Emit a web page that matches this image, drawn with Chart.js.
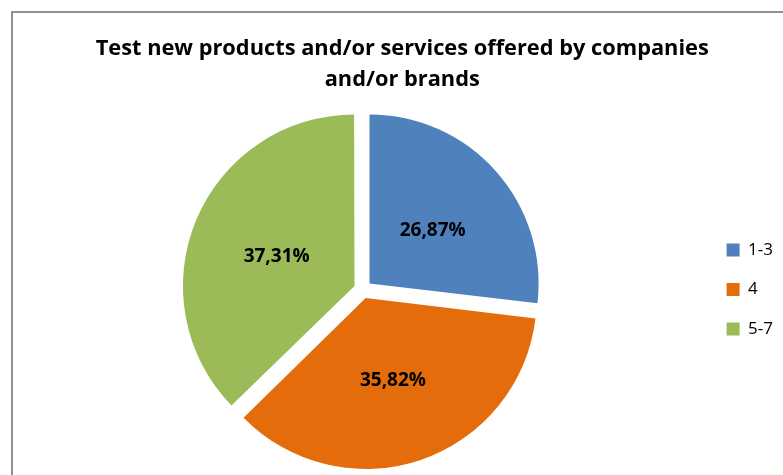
<!DOCTYPE html>
<html>
<head>
<meta charset="utf-8">
<script src="https://cdn.jsdelivr.net/npm/chart.js@4/dist/chart.umd.min.js"></script>
<style>
    html, body { margin: 0; padding: 0; background: #fff; overflow: hidden; }
    #frame {
        position: absolute; left: 11px; top: 11px;
        width: 800px; height: 500px;
        border: 2px solid #8f8f8f;
    }
    #wrap { position: absolute; left: 0; top: 0; width: 800px; height: 480px; }
</style>
</head>
<body>
<div id="frame"></div>
<div id="wrap"><canvas id="pieChart" width="800" height="480"></canvas></div>
<script>
// --- Chart data ---
const categories = ['1-3', '4', '5-7'];
const shares = [26.87, 35.82, 37.31];
const sliceColors = ['#4F81BD', '#E46C0A', '#9BBB59'];
const chartTitle = ['Test new products and/or services offered by companies', 'and/or brands'];

const SLICE_OFFSET = 36; // Chart.js moves an arc out by offset / 4

// Percent with a decimal comma, e.g. 26,87%
function formatShare(v) {
    return v.toFixed(2).replace('.', ',') + '%';
}

// Draws the value label inside every slice, halfway out along its bisector
const sliceLabels = {
    id: 'sliceLabels',
    afterDatasetsDraw(chart) {
        const ctx = chart.ctx;
        const meta = chart.getDatasetMeta(0);
        ctx.save();
        ctx.font = 'bold 19px "Open Sans"';
        ctx.fillStyle = '#000';
        ctx.textAlign = 'center';
        ctx.textBaseline = 'middle';
        meta.data.forEach((arc, i) => {
            const mid = (arc.startAngle + arc.endAngle) / 2;
            const dist = SLICE_OFFSET / 4 + arc.outerRadius * 0.5;
            const x = arc.x + Math.cos(mid) * dist;
            const y = arc.y + Math.sin(mid) * dist + 3;
            ctx.fillText(formatShare(chart.data.datasets[0].data[i]), x, y);
        });
        ctx.restore();
    }
};

const ctx = document.getElementById('pieChart').getContext('2d');
new Chart(ctx, {
    type: 'pie',
    data: {
        labels: categories,
        datasets: [{
            data: shares,
            backgroundColor: sliceColors,
            borderWidth: 0,
            offset: SLICE_OFFSET
        }]
    },
    options: {
        responsive: false,
        animation: false,
        radius: 169,
        layout: { padding: { left: 21.5, right: 17, top: 0, bottom: 6 } },
        plugins: {
            title: {
                display: true,
                text: chartTitle,
                color: '#000',
                font: { family: 'Open Sans', size: 21.8, weight: 'bold', lineHeight: 1.422 },
                padding: { top: 33, bottom: 10 }
            },
            legend: {
                position: 'right',
                fullSize: false,
                labels: {
                    boxWidth: 13,
                    boxHeight: 13,
                    padding: 22.5,
                    color: '#000',
                    font: { family: 'Open Sans', size: 17 }
                }
            },
            tooltip: { enabled: false }
        }
    },
    plugins: [sliceLabels]
});
</script>
</body>
</html>
